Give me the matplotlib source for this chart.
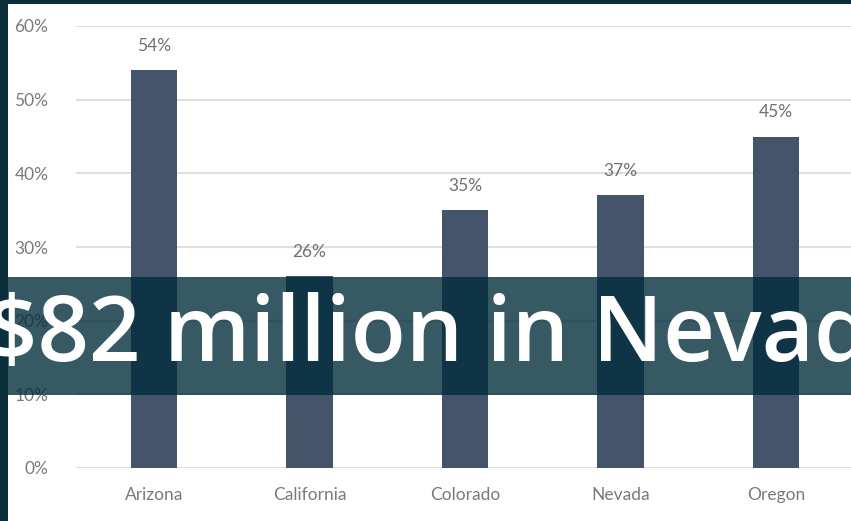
import matplotlib
matplotlib.use("Agg")
import matplotlib.pyplot as plt
from matplotlib.patches import Rectangle

states = ["Arizona", "California", "Colorado", "Nevada", "Oregon"]
shares = [54, 26, 35, 37, 45]
yticks = [0, 10, 20, 30, 40, 50, 60]
banner_text = "$82 million in Nevada"

W, H = 851, 521
fig = plt.figure(figsize=(W / 100, H / 100), dpi=100, facecolor="#0b2f3d")

# white chart card
card = Rectangle((8 / W, 0), (W - 8) / W, (H - 4) / H,
                 transform=fig.transFigure, facecolor="white",
                 edgecolor="none", zorder=-5)
fig.patches.append(card)

# axes placement in pixels
x0 = 154 - 0.5 * 155.5
ax = fig.add_axes([x0 / W, (H - 468) / H, 5 * 155.5 / W, 442 / H])
ax.set_zorder(1)
ax.set_facecolor("none")
xs = list(range(len(states)))
ax.bar(xs, shares, width=0.30, color="#44546a", zorder=2)
for x, v in zip(xs, shares):
    ax.text(x, v + 2.2, f"{v}%", ha="center", va="bottom", fontsize=12.5,
            color="#707070", family="Lato", clip_on=False)
ax.set_xlim(-0.5, 4.5)
ax.set_ylim(0, 60)
ax.set_yticks(yticks)
ax.set_yticklabels([f"{t}%" for t in yticks])
ax.set_xticks(xs)
ax.set_xticklabels(states)
ax.grid(axis="y", color="#dedede", linewidth=1.5, zorder=0)
ax.set_axisbelow(True)
for s in ax.spines.values():
    s.set_visible(False)
ax.tick_params(length=0, colors="#7a7a7a", labelsize=12.5)
ax.tick_params(axis="y", pad=20)
ax.tick_params(axis="x", pad=14)
for lab in ax.get_xticklabels() + ax.get_yticklabels():
    lab.set_family("Lato")

# banner
banner = Rectangle((8 / W, 126 / H), (W - 8) / W, 118 / H,
                   transform=fig.transFigure, facecolor="#002c3b",
                   alpha=0.79, edgecolor="none", zorder=5)
fig.artists.append(banner)
fig.text(-14 / W, 183 / H, banner_text, ha="left", va="center", fontsize=65,
         color="white", family="Open Sans", weight="semibold", zorder=6)

fig.savefig("out.png", dpi=100, facecolor=fig.get_facecolor())
